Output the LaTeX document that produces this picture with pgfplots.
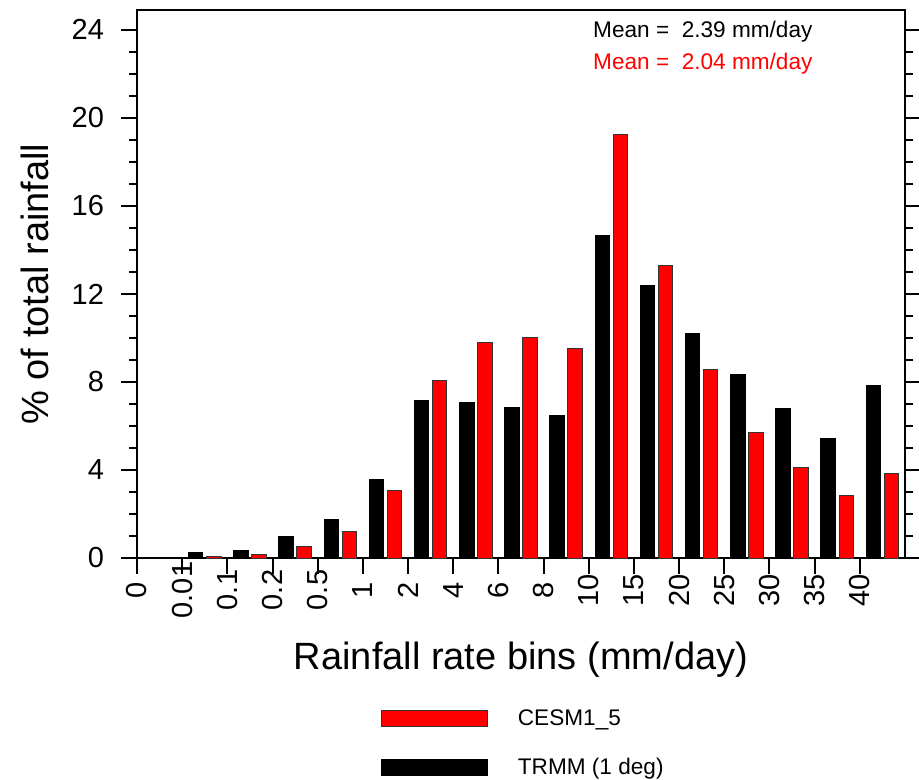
\documentclass[border=0pt]{standalone}
\usepackage{fontspec}
\setmainfont{Liberation Sans}
\usepackage{pgfplots}
\pgfplotsset{compat=1.18}
\definecolor{BarRed}{HTML}{FF0000}
\definecolor{Edge}{HTML}{333333}

% black = TRMM (1 deg), red = CESM1_5; bin k sits between ticks k and k+1
\pgfplotstableread{
x     y
1.30  0.24
2.30  0.32
3.30  0.97
4.30  1.73
5.30  3.55
6.30  7.15
7.30  7.06
8.30  6.83
9.30  6.48
10.30 14.65
11.30 12.38
12.30 10.21
13.30 8.36
14.30 6.79
15.30 5.41
16.30 7.86
}\trmm
\pgfplotstableread{
x     y
1.70  0.08
2.70  0.14
3.70  0.51
4.70  1.20
5.70  3.06
6.70  8.06
7.70  9.77
8.70  10.00
9.70  9.50
10.70 19.23
11.70 13.27
12.70 8.55
13.70 5.70
14.70 4.09
15.70 2.83
16.70 3.82
}\cesm

\begin{document}
\begin{tikzpicture}
\begin{axis}[
  scale only axis,width=384pt,height=274pt,
  xmin=0,xmax=17,ymin=0,ymax=24.9,
  ybar,bar width=0.32,bar shift=0pt,
  xtick={0,...,16},
  xticklabels={0,0.01,0.1,0.2,0.5,1,2,4,6,8,10,15,20,25,30,35,40},
  ytick={0,4,...,24},minor y tick num=3,
  xtick pos=left,ytick pos=both,
  tick align=outside,
  major tick length=8pt,minor tick length=4pt,
  every tick/.style={black,line width=1pt},
  axis line style={line width=1pt},
  /pgf/number format/assume math mode=true,
  tick label style={font=\fontsize{14.5}{17}\selectfont},
  xticklabel style={yshift=-8pt,rotate=90,anchor=center},
  yticklabel style={xshift=-5pt},
  xlabel={Rainfall rate bins (mm/day)},
  ylabel={\% of total rainfall},
  label style={font=\fontsize{19}{22}\selectfont},
  xlabel style={at={(axis description cs:0.5,-0.186)},anchor=center},
  ylabel style={at={(axis description cs:-0.133,0.5)},anchor=center},
  legend image code/.code={\draw[#1] (0pt,-4pt) rectangle (53pt,4pt); \path[draw=none,fill=none] (0pt,0pt) -- (66pt,0pt);},
  reverse legend,
  legend cell align=left,
  legend style={draw=none,fill=none,inner sep=0pt,
    at={(axis description cs:0.3177,-0.268)},anchor=north west,
    font=\fontsize{11.3}{13.5}\selectfont,row sep=11pt},
]
\addplot[fill=black,draw=black,line width=0.5pt] table {\trmm};
\addplot[fill=BarRed,draw=Edge,line width=0.5pt] table {\cesm};
\legend{TRMM (1 deg),CESM1\_5}
\node[anchor=base west,inner sep=0pt,font=\fontsize{11.3}{13}\selectfont] at (axis cs:10.09,23.67) {Mean = \ 2.39 mm/day};
\node[anchor=base west,inner sep=0pt,text=BarRed,font=\fontsize{11.3}{13}\selectfont] at (axis cs:10.09,22.18) {Mean = \ 2.04 mm/day};
\end{axis}
\pgfresetboundingbox
\path ([xshift=-68.5pt,yshift=-111pt]current axis.south west) rectangle ([xshift=7pt,yshift=5pt]current axis.north east);
\end{tikzpicture}
\end{document}
